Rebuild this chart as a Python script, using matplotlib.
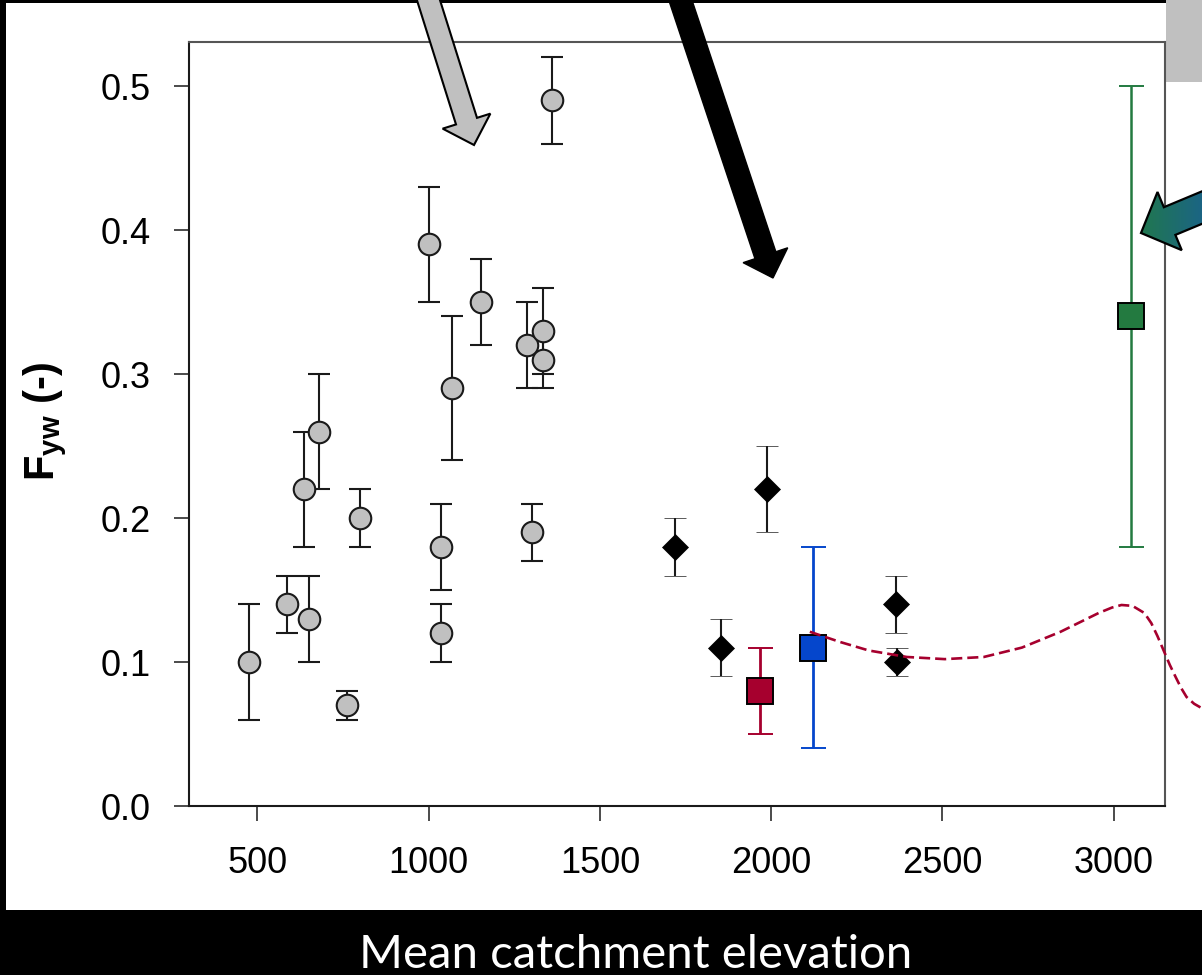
import numpy as np
import matplotlib
matplotlib.use("Agg")
import matplotlib.pyplot as plt
from matplotlib.patches import Polygon, Rectangle
from matplotlib.colors import to_rgb

plt.rcParams['font.family'] = ['Liberation Sans', 'DejaVu Sans']
plt.rcParams['mathtext.fontset'] = 'custom'
plt.rcParams['mathtext.rm'] = 'Liberation Sans'
plt.rcParams['mathtext.bf'] = 'Liberation Sans:bold'

# ---------------- data ----------------
circ_x = [474, 585, 637, 649, 681, 760, 798, 1002, 1037, 1037, 1069, 1153, 1288, 1302, 1334, 1334, 1360]
circ_y = [0.10, 0.14, 0.22, 0.13, 0.26, 0.07, 0.20, 0.39, 0.18, 0.12, 0.29, 0.35, 0.32, 0.19, 0.33, 0.31, 0.49]
circ_lo = [0.06, 0.12, 0.18, 0.10, 0.22, 0.06, 0.18, 0.35, 0.15, 0.10, 0.24, 0.32, 0.29, 0.17, 0.30, 0.29, 0.46]
circ_hi = [0.14, 0.16, 0.26, 0.16, 0.30, 0.08, 0.22, 0.43, 0.21, 0.14, 0.34, 0.38, 0.35, 0.21, 0.36, 0.33, 0.52]

dia_x = [1719, 1853, 1988, 2364, 2368]
dia_y = [0.18, 0.11, 0.22, 0.14, 0.10]
dia_lo = [0.16, 0.09, 0.19, 0.12, 0.09]
dia_hi = [0.20, 0.13, 0.25, 0.16, 0.11]

red_x, red_y, red_lo, red_hi = [1967], [0.08], [0.05], [0.11]
blue_x, blue_y, blue_lo, blue_hi = [2122], [0.11], [0.04], [0.18]
green_x, green_y, green_lo, green_hi = [3050], [0.34], [0.18], [0.50]

curve_x = [2113, 2200, 2285, 2396, 2507, 2621, 2732, 2845, 2956, 2995, 3023, 3055, 3090, 3110, 3128, 3146, 3164, 3181, 3197, 3213, 3235, 3257]
curve_y = [0.121, 0.114, 0.108, 0.1035, 0.102, 0.1035, 0.110, 0.121, 0.134, 0.1378, 0.1396, 0.139, 0.134, 0.127, 0.118, 0.108, 0.098, 0.0896, 0.082, 0.0757, 0.071, 0.068]

x_ticks = [500, 1000, 1500, 2000, 2500, 3000]
y_ticks = [0.0, 0.1, 0.2, 0.3, 0.4, 0.5]
y_ticklabels = ['0.0', '0.1', '0.2', '0.3', '0.4', '0.5']

W, H = 1202, 975
RED = '#A6002E'
BLUE = '#0546CC'
GREEN = '#237A40'

fig = plt.figure(figsize=(W / 100, H / 100), dpi=100, facecolor='black')

# background (pixel coordinates, y downward)
bg = fig.add_axes([0, 0, 1, 1], zorder=-10)
bg.set_xlim(0, W)
bg.set_ylim(H, 0)
bg.axis('off')
bg.add_patch(Rectangle((6, 3), W - 6, 907, facecolor='white', edgecolor='none'))
bg.add_patch(Rectangle((1166, 0), W - 1166, 82, facecolor='#C0C0C0', edgecolor='none'))

# main axes
L, R, T, B = 189, 1165, 42, 806
ax = fig.add_axes([L / W, 1 - B / H, (R - L) / W, (B - T) / H], zorder=1)
ax.set_xlim(300, 3150)
ax.set_ylim(0, 0.5306)


def eb(x, y, lo, hi, **kw):
    y = np.asarray(y)
    yerr = [y - np.asarray(lo), np.asarray(hi) - y]
    return ax.errorbar(x, y, yerr=yerr, linestyle='none', **kw)


eb(circ_x, circ_y, circ_lo, circ_hi, marker='o', ms=15.5, mfc='#C0C0C0', mec='#1a1a1a', mew=1.5,
   ecolor='#1a1a1a', elinewidth=1.5, capsize=8, capthick=1.5, zorder=3)
eb(dia_x, dia_y, dia_lo, dia_hi, marker='D', ms=13, mfc='black', mec='black', mew=0.5,
   ecolor='#1a1a1a', elinewidth=1.5, capsize=8, capthick=1.5, zorder=3)
eb(red_x, red_y, red_lo, red_hi, marker='s', ms=18.5, mfc=RED, mec='black', mew=1.4,
   ecolor=RED, elinewidth=2.0, capsize=9, capthick=2.6, zorder=3)
eb(blue_x, blue_y, blue_lo, blue_hi, marker='s', ms=19, mfc=BLUE, mec='black', mew=1.4,
   ecolor=BLUE, elinewidth=2.0, capsize=9, capthick=2.6, zorder=3)
eb(green_x, green_y, green_lo, green_hi, marker='s', ms=19, mfc=GREEN, mec='black', mew=1.4,
   ecolor=GREEN, elinewidth=1.8, capsize=9, capthick=2.6, zorder=3)

ax.plot(curve_x, curve_y, color=RED, lw=1.9, dashes=(4.2, 1.9), clip_on=False, zorder=4)

ax.set_xticks(x_ticks)
ax.set_xticklabels([str(v) for v in x_ticks])
ax.set_yticks(y_ticks)
ax.set_yticklabels(y_ticklabels)
ax.tick_params(direction='out', length=10.8, width=1.1, labelsize=26, color='#1a1a1a')
ax.tick_params(axis='x', pad=18)
ax.tick_params(axis='y', pad=17)
for side in ['left', 'bottom']:
    ax.spines[side].set_color('#1a1a1a')
    ax.spines[side].set_linewidth(1.5)
for side in ['top', 'right']:
    ax.spines[side].set_color('#555555')
    ax.spines[side].set_linewidth(1.5)

fig.text(45 / W, 1 - 422 / H, r'$\mathbf{F_{yw}}$ (-)', rotation=90, fontsize=30,
         fontweight='bold', ha='center', va='center')

fig.text(636 / W, 1 - 968 / H, 'Mean catchment elevation', color='white', fontsize=34,
         family=['Lato', 'DejaVu Sans'], fontweight='normal', ha='center', va='baseline')

# overlay arrows
ov = fig.add_axes([0, 0, 1, 1], zorder=10)
ov.set_xlim(0, W)
ov.set_ylim(H, 0)
ov.axis('off')
ov.patch.set_alpha(0)


def block_arrow(tail, tip, sw, hw, hl):
    tail = np.array(tail, float)
    tip = np.array(tip, float)
    d = tip - tail
    u = d / np.hypot(*d)
    n = np.array([-u[1], u[0]])
    base = tip - u * hl
    return np.array([tail + n * sw / 2, base + n * sw / 2, base + n * hw / 2, tip,
                     base - n * hw / 2, base - n * sw / 2, tail - n * sw / 2])


gray_pts = block_arrow((419, -30), (474, 145), 22, 50, 25)
ov.add_patch(Polygon(gray_pts, closed=True, facecolor='#C0C0C0', edgecolor='black', lw=1.5))

black_pts = block_arrow((671, -28), (773, 278), 22, 47, 24)
ov.add_patch(Polygon(black_pts, closed=True, facecolor='black', edgecolor='black', lw=1.0))

teal_pts = block_arrow((1297, 168), (1141, 233), 30, 63, 31)
clip = Polygon(teal_pts, closed=True, facecolor='none', edgecolor='none')
ov.add_patch(clip)
c1, c2 = np.array(to_rgb('#21794A')), np.array(to_rgb('#1B6486'))
t = np.linspace(0, 1, 64)
grad = (c1[None, :] * (1 - t[:, None]) + c2[None, :] * t[:, None])[None, :, :]
im = ov.imshow(grad, extent=(1135, 1205, 262, 160), aspect='auto', interpolation='bilinear', zorder=10)
im.set_clip_path(clip)
ov.add_patch(Polygon(teal_pts, closed=True, facecolor='none', edgecolor='black', lw=1.6, zorder=11))
ov.set_xlim(0, W)
ov.set_ylim(H, 0)

fig.savefig('out.png', dpi=100, facecolor='black')
